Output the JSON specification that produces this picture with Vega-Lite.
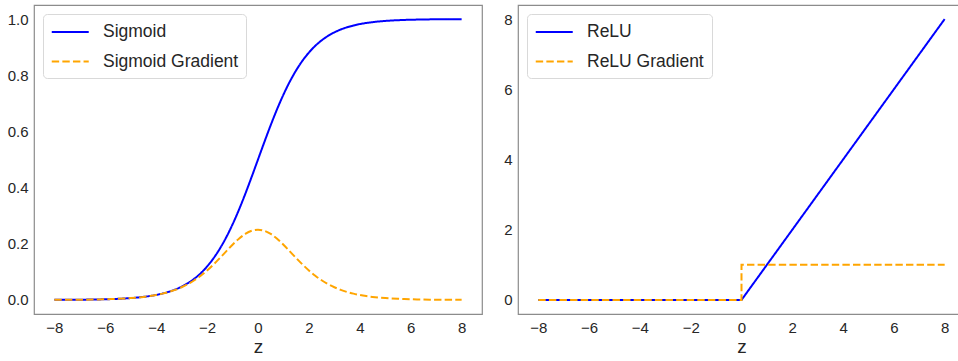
{
  "$schema": "https://vega.github.io/schema/vega-lite/v6.json",
  "padding": {"left": 3, "top": 4, "right": 0, "bottom": 0},
  "background": "white",
  "config": {
    "font": "Liberation Sans",
    "view": {"stroke": "#8c8c8c", "strokeWidth": 1.2},
    "axis": {"grid": false, "ticks": false, "domain": false, "labelFontSize": 15, "labelColor": "#262626", "labelPadding": 6, "titleFontSize": 19, "titleFontWeight": "normal", "titleColor": "#262626", "titlePadding": 2},
    "legend": {"orient": "top-left", "offset": 9, "fillColor": "white", "strokeColor": "#d9d9d9", "cornerRadius": 4, "padding": 7.5, "labelFontSize": 17.5, "labelColor": "#262626", "symbolType": "M-1,0H3", "symbolSize": 342, "symbolStrokeWidth": 2, "symbolFillColor": "transparent", "labelOffset": 31.5, "rowPadding": 10.5},
    "concat": {"spacing": 14}
  },
  "datasets": {
    "sig": [
      {"z": -8, "Sigmoid": 0.00034, "Sigmoid Gradient": 0.00034},
      {"z": -7.75, "Sigmoid": 0.00043, "Sigmoid Gradient": 0.00043},
      {"z": -7.5, "Sigmoid": 0.00055, "Sigmoid Gradient": 0.00055},
      {"z": -7.25, "Sigmoid": 0.00071, "Sigmoid Gradient": 0.00071},
      {"z": -7, "Sigmoid": 0.00091, "Sigmoid Gradient": 0.00091},
      {"z": -6.75, "Sigmoid": 0.00117, "Sigmoid Gradient": 0.00117},
      {"z": -6.5, "Sigmoid": 0.0015, "Sigmoid Gradient": 0.0015},
      {"z": -6.25, "Sigmoid": 0.00193, "Sigmoid Gradient": 0.00192},
      {"z": -6, "Sigmoid": 0.00247, "Sigmoid Gradient": 0.00247},
      {"z": -5.75, "Sigmoid": 0.00317, "Sigmoid Gradient": 0.00316},
      {"z": -5.5, "Sigmoid": 0.00407, "Sigmoid Gradient": 0.00405},
      {"z": -5.25, "Sigmoid": 0.00522, "Sigmoid Gradient": 0.00519},
      {"z": -5, "Sigmoid": 0.00669, "Sigmoid Gradient": 0.00665},
      {"z": -4.75, "Sigmoid": 0.00858, "Sigmoid Gradient": 0.0085},
      {"z": -4.5, "Sigmoid": 0.01099, "Sigmoid Gradient": 0.01087},
      {"z": -4.25, "Sigmoid": 0.01406, "Sigmoid Gradient": 0.01387},
      {"z": -4, "Sigmoid": 0.01799, "Sigmoid Gradient": 0.01766},
      {"z": -3.75, "Sigmoid": 0.02298, "Sigmoid Gradient": 0.02245},
      {"z": -3.5, "Sigmoid": 0.02931, "Sigmoid Gradient": 0.02845},
      {"z": -3.25, "Sigmoid": 0.03733, "Sigmoid Gradient": 0.03593},
      {"z": -3, "Sigmoid": 0.04743, "Sigmoid Gradient": 0.04518},
      {"z": -2.75, "Sigmoid": 0.06009, "Sigmoid Gradient": 0.05648},
      {"z": -2.5, "Sigmoid": 0.07586, "Sigmoid Gradient": 0.0701},
      {"z": -2.25, "Sigmoid": 0.09535, "Sigmoid Gradient": 0.08626},
      {"z": -2, "Sigmoid": 0.1192, "Sigmoid Gradient": 0.10499},
      {"z": -1.75, "Sigmoid": 0.14805, "Sigmoid Gradient": 0.12613},
      {"z": -1.5, "Sigmoid": 0.18243, "Sigmoid Gradient": 0.14915},
      {"z": -1.25, "Sigmoid": 0.2227, "Sigmoid Gradient": 0.17311},
      {"z": -1, "Sigmoid": 0.26894, "Sigmoid Gradient": 0.19661},
      {"z": -0.75, "Sigmoid": 0.32082, "Sigmoid Gradient": 0.2179},
      {"z": -0.5, "Sigmoid": 0.37754, "Sigmoid Gradient": 0.235},
      {"z": -0.25, "Sigmoid": 0.43782, "Sigmoid Gradient": 0.24613},
      {"z": 0, "Sigmoid": 0.5, "Sigmoid Gradient": 0.25},
      {"z": 0.25, "Sigmoid": 0.56218, "Sigmoid Gradient": 0.24613},
      {"z": 0.5, "Sigmoid": 0.62246, "Sigmoid Gradient": 0.235},
      {"z": 0.75, "Sigmoid": 0.67918, "Sigmoid Gradient": 0.2179},
      {"z": 1, "Sigmoid": 0.73106, "Sigmoid Gradient": 0.19661},
      {"z": 1.25, "Sigmoid": 0.7773, "Sigmoid Gradient": 0.17311},
      {"z": 1.5, "Sigmoid": 0.81757, "Sigmoid Gradient": 0.14915},
      {"z": 1.75, "Sigmoid": 0.85195, "Sigmoid Gradient": 0.12613},
      {"z": 2, "Sigmoid": 0.8808, "Sigmoid Gradient": 0.10499},
      {"z": 2.25, "Sigmoid": 0.90465, "Sigmoid Gradient": 0.08626},
      {"z": 2.5, "Sigmoid": 0.92414, "Sigmoid Gradient": 0.0701},
      {"z": 2.75, "Sigmoid": 0.93991, "Sigmoid Gradient": 0.05648},
      {"z": 3, "Sigmoid": 0.95257, "Sigmoid Gradient": 0.04518},
      {"z": 3.25, "Sigmoid": 0.96267, "Sigmoid Gradient": 0.03593},
      {"z": 3.5, "Sigmoid": 0.97069, "Sigmoid Gradient": 0.02845},
      {"z": 3.75, "Sigmoid": 0.97702, "Sigmoid Gradient": 0.02245},
      {"z": 4, "Sigmoid": 0.98201, "Sigmoid Gradient": 0.01766},
      {"z": 4.25, "Sigmoid": 0.98594, "Sigmoid Gradient": 0.01387},
      {"z": 4.5, "Sigmoid": 0.98901, "Sigmoid Gradient": 0.01087},
      {"z": 4.75, "Sigmoid": 0.99142, "Sigmoid Gradient": 0.0085},
      {"z": 5, "Sigmoid": 0.99331, "Sigmoid Gradient": 0.00665},
      {"z": 5.25, "Sigmoid": 0.99478, "Sigmoid Gradient": 0.00519},
      {"z": 5.5, "Sigmoid": 0.99593, "Sigmoid Gradient": 0.00405},
      {"z": 5.75, "Sigmoid": 0.99683, "Sigmoid Gradient": 0.00316},
      {"z": 6, "Sigmoid": 0.99753, "Sigmoid Gradient": 0.00247},
      {"z": 6.25, "Sigmoid": 0.99807, "Sigmoid Gradient": 0.00192},
      {"z": 6.5, "Sigmoid": 0.9985, "Sigmoid Gradient": 0.0015},
      {"z": 6.75, "Sigmoid": 0.99883, "Sigmoid Gradient": 0.00117},
      {"z": 7, "Sigmoid": 0.99909, "Sigmoid Gradient": 0.00091},
      {"z": 7.25, "Sigmoid": 0.99929, "Sigmoid Gradient": 0.00071},
      {"z": 7.5, "Sigmoid": 0.99945, "Sigmoid Gradient": 0.00055},
      {"z": 7.75, "Sigmoid": 0.99957, "Sigmoid Gradient": 0.00043},
      {"z": 8, "Sigmoid": 0.99966, "Sigmoid Gradient": 0.00034}
    ],
    "relu": [
      {"series": "ReLU", "z": -8, "value": 0, "i": 0},
      {"series": "ReLU", "z": 0, "value": 0, "i": 1},
      {"series": "ReLU", "z": 8, "value": 8, "i": 2},
      {"series": "ReLU Gradient", "z": -8, "value": 0, "i": 0},
      {"series": "ReLU Gradient", "z": 0, "value": 0, "i": 1},
      {"series": "ReLU Gradient", "z": 0, "value": 1, "i": 2},
      {"series": "ReLU Gradient", "z": 8, "value": 1, "i": 3}
    ]
  },
  "hconcat": [
    {
      "width": 448,
      "height": 309,
      "data": {"name": "sig"},
      "transform": [{"fold": ["Sigmoid", "Sigmoid Gradient"], "as": ["series", "value"]}],
      "mark": {"type": "line", "strokeWidth": 2, "interpolate": "monotone"},
      "encoding": {
        "x": {"field": "z", "type": "quantitative", "scale": {"domain": [-8.8, 8.8], "nice": false, "zero": false}, "axis": {"values": [-8, -6, -4, -2, 0, 2, 4, 6, 8], "title": "z"}},
        "y": {"field": "value", "type": "quantitative", "scale": {"domain": [-0.05, 1.05], "nice": false, "zero": false}, "axis": {"values": [0, 0.2, 0.4, 0.6, 0.8, 1.0], "format": ".1f", "title": null, "minExtent": 30, "maxExtent": 30}},
        "color": {"field": "series", "type": "nominal", "scale": {"domain": ["Sigmoid", "Sigmoid Gradient"], "range": ["#0000ff", "#ffa500"]}, "legend": {"title": null}},
        "strokeDash": {"field": "series", "type": "nominal", "scale": {"domain": ["Sigmoid", "Sigmoid Gradient"], "range": [[1, 0], [7.4, 3.2]]}, "legend": {"title": null}}
      }
    },
    {
      "width": 447,
      "height": 309,
      "data": {"name": "relu"},
      "mark": {"type": "line", "strokeWidth": 2},
      "encoding": {
        "x": {"field": "z", "type": "quantitative", "scale": {"domain": [-8.8, 8.8], "nice": false, "zero": false}, "axis": {"values": [-8, -6, -4, -2, 0, 2, 4, 6, 8], "title": "z"}},
        "y": {"field": "value", "type": "quantitative", "scale": {"domain": [-0.4, 8.4], "nice": false, "zero": false}, "axis": {"values": [0, 2, 4, 6, 8], "format": "d", "title": null, "minExtent": 20, "maxExtent": 20}},
        "order": {"field": "i", "type": "quantitative"},
        "color": {"field": "series", "type": "nominal", "scale": {"domain": ["ReLU", "ReLU Gradient"], "range": ["#0000ff", "#ffa500"]}, "legend": {"title": null}},
        "strokeDash": {"field": "series", "type": "nominal", "scale": {"domain": ["ReLU", "ReLU Gradient"], "range": [[1, 0], [7.4, 3.2]]}, "legend": {"title": null}}
      }
    }
  ],
  "resolve": {"scale": {"color": "independent", "strokeDash": "independent", "x": "independent", "y": "independent"}, "legend": {"color": "independent", "strokeDash": "independent"}}
}
